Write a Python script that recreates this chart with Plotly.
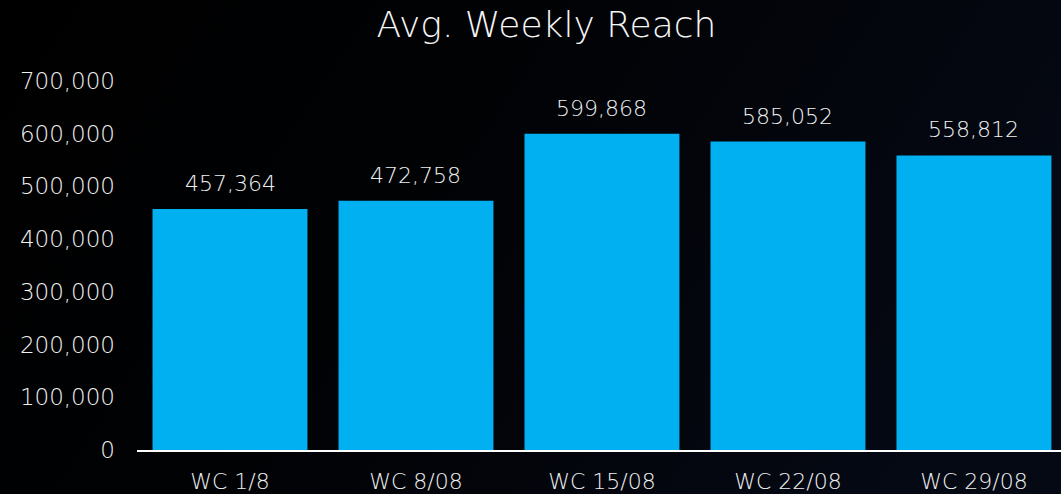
import plotly.graph_objects as go
import base64

categories = ["WC 1/8", "WC 8/08", "WC 15/08", "WC 22/08", "WC 29/08"]
reach = [457364, 472758, 599868, 585052, 558812]
y_ticks = [0, 100000, 200000, 300000, 400000, 500000, 600000, 700000]
y_tick_labels = [f"{v:,}" for v in y_ticks]

FONT = "DejaVu Sans"
W = 200
TXT = "#f0f0f0"

svg = ('<svg xmlns="http://www.w3.org/2000/svg" width="1061" height="494">'
       '<defs><linearGradient id="g" x1="0" y1="0" x2="1" y2="0.3">'
       '<stop offset="0" stop-color="#000000"/><stop offset="0.45" stop-color="#010204"/>'
       '<stop offset="1" stop-color="#050914"/></linearGradient></defs>'
       '<rect width="1061" height="494" fill="url(#g)"/></svg>')
bg_uri = "data:image/svg+xml;base64," + base64.b64encode(svg.encode()).decode()

fig = go.Figure()
fig.add_trace(go.Bar(
    x=categories, y=reach,
    marker=dict(color="#00B0F0", line=dict(width=0)),
    hoverinfo="skip",
))

for c, v in zip(categories, reach):
    fig.add_annotation(x=c, y=v, text=f"{v:,}", showarrow=False,
                       yanchor="bottom", yshift=11,
                       font=dict(family=FONT, size=22, color=TXT, weight=W))

fig.update_layout(
    width=1061, height=494,
    margin=dict(l=137, r=0, t=81, b=40),
    paper_bgcolor="#000000", plot_bgcolor="rgba(0,0,0,0)",
    bargap=0.167,
    showlegend=False,
    title=dict(text="Avg. Weekly Reach", x=0.515, xanchor="center",
               y=0.95, yanchor="middle",
               font=dict(family=FONT, size=36, color="#f5f5f5", weight=W)),
    images=[dict(source=bg_uri, xref="paper", yref="paper", x=-0.2, y=1.3,
                 sizex=1.3, sizey=1.5, sizing="stretch", layer="below",
                 xanchor="left", yanchor="top")],
    xaxis=dict(range=[-0.5, 4.468], showgrid=False, zeroline=False,
               showline=True, linecolor="#ffffff", linewidth=2,
               ticks="", ticklabelstandoff=11,
               tickfont=dict(family=FONT, size=22, color=TXT, weight=W)),
    yaxis=dict(range=[0, 700000], tickvals=y_ticks, ticktext=y_tick_labels,
               showgrid=False, zeroline=False, showline=False, ticks="",
               ticklabelstandoff=21,
               tickfont=dict(family=FONT, size=23, color=TXT, weight=W)),
)

fig.write_html("out.html", config={"displayModeBar": False},
               post_script="document.body.style.margin='0';document.body.style.overflow='hidden';")
